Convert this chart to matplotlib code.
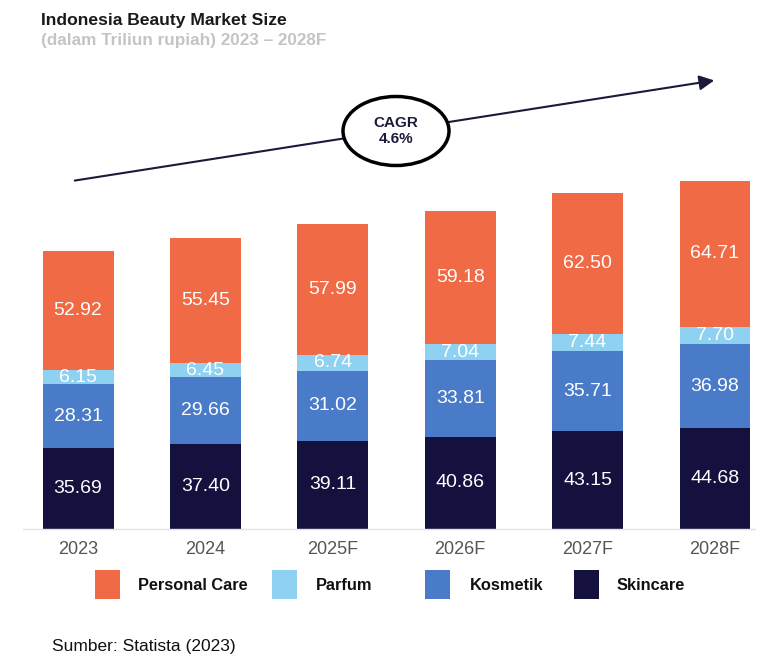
import matplotlib
matplotlib.use("Agg")
import matplotlib.pyplot as plt
from matplotlib.patches import Ellipse, Rectangle, FancyArrowPatch

plt.rcParams['font.family'] = ['Liberation Sans', 'DejaVu Sans']

years = ["2023", "2024", "2025F", "2026F", "2027F", "2028F"]
skincare = [35.69, 37.40, 39.11, 40.86, 43.15, 44.68]
kosmetik = [28.31, 29.66, 31.02, 33.81, 35.71, 36.98]
parfum = [6.15, 6.45, 6.74, 7.04, 7.44, 7.70]
personal_care = [52.92, 55.45, 57.99, 59.18, 62.50, 64.71]

series = [("Skincare", skincare, "#15113f"),
          ("Kosmetik", kosmetik, "#4a7bc8"),
          ("Parfum", parfum, "#8ed1f1"),
          ("Personal Care", personal_care, "#ef6a45")]

W, H = 763, 657
fig = plt.figure(figsize=(W / 100, H / 100), dpi=100)

ax_left, ax_right = 23, 755
base_y, top_y = 529, 60
ax = fig.add_axes([ax_left / W, (H - base_y) / H, (ax_right - ax_left) / W, (base_y - top_y) / H])
ax.set_xlim(-0.432, 5.314)
ax.set_ylim(0, (base_y - top_y) / 2.26)

x = list(range(len(years)))
bottom = [0.0] * len(years)
for name, vals, color in series:
    ax.bar(x, vals, bottom=bottom, width=0.557, color=color, edgecolor="none")
    for i, v in enumerate(vals):
        ax.text(i, bottom[i] + v / 2, f"{v:.2f}", ha="center", va="center",
                color="white", fontsize=14)
    bottom = [b + v for b, v in zip(bottom, vals)]

ax.set_xticks(x)
ax.set_xticklabels(years, fontsize=13, color="#555555")
ax.tick_params(axis="x", length=0, pad=9)
ax.set_yticks([])
for s in ["top", "right", "left"]:
    ax.spines[s].set_visible(False)
ax.spines["bottom"].set_color("#e2e2e2")
ax.spines["bottom"].set_linewidth(1.0)

def fx(px):
    return px / W

def fy(py):
    return 1 - py / H

# Title
fig.text(fx(41), fy(20), "Indonesia Beauty Market Size", fontsize=12.6, fontweight="bold",
         color="#1a1a1a", va="center", ha="left")
fig.text(fx(41), fy(41), "(dalam Triliun rupiah) 2023 \u2013 2028F", fontsize=12.3,
         fontweight="bold", color="#c4c4c4", va="center", ha="left")

# CAGR arrow
arrow = FancyArrowPatch((fx(72), fy(181)), (fx(717), fy(80)), transform=fig.transFigure,
                        arrowstyle="-|>,head_length=6,head_width=3", color="#1a1a3a",
                        linewidth=1.5, mutation_scale=1.5)
fig.add_artist(arrow)
ell = Ellipse((fx(396), fy(131)), 106 / W, 69 / H, transform=fig.transFigure,
              facecolor="white", edgecolor="black", linewidth=2.5, zorder=5)
fig.add_artist(ell)
fig.text(fx(396), fy(131), "CAGR\n4.6%", ha="center", va="center", fontsize=11,
         fontweight="bold", color="#1a1a3a", zorder=6, linespacing=1.2)

# Legend
legend_items = [("Personal Care", "#ef6a45", 95, 138),
                ("Parfum", "#8ed1f1", 272, 316),
                ("Kosmetik", "#4a7bc8", 425, 470),
                ("Skincare", "#15113f", 574, 617)]
for label, color, sx, tx in legend_items:
    r = Rectangle((fx(sx), fy(599)), 25 / W, 29 / H, transform=fig.transFigure,
                  facecolor=color, edgecolor="none")
    fig.add_artist(r)
    fig.text(fx(tx), fy(585), label, fontsize=11.8, fontweight="bold", color="#111111",
             va="center", ha="left")

fig.text(fx(52), fy(647), "Sumber: Statista (2023)", fontsize=12.5, color="#111111",
         va="center", ha="left")

fig.savefig("out.png", dpi=100)
